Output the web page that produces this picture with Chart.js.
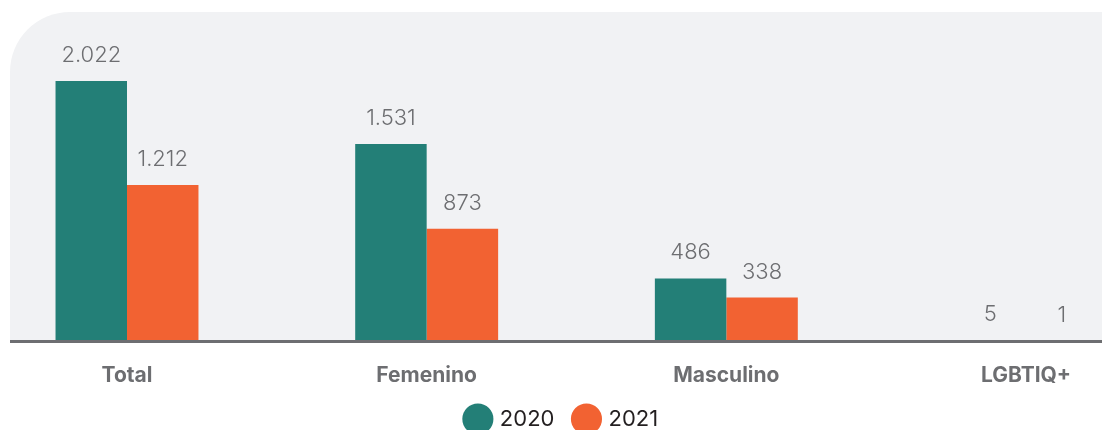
<!DOCTYPE html>
<html>
<head>
<meta charset="utf-8">
<script src="https://cdn.jsdelivr.net/npm/chart.js@4/dist/chart.umd.min.js"></script>
<style>
  html, body { margin: 0; padding: 0; background: #fff; overflow: hidden; }
  #wrap { width: 1102px; height: 430px; overflow: hidden; }
</style>
</head>
<body>
<div id="wrap"><canvas id="myChart" width="1102" height="440"></canvas></div>
<script>
// Data

var categories = ['Total', 'Femenino', 'Masculino', 'LGBTIQ+']
var values2020 = [2022, 1531, 486, 5]
var values2021 = [1212, 873, 338, 1]
var seriesNames = ['2020', '2021']

var colors = ['#237f77', '#f26232']
var fontFamily = 'Inter, "Open Sans", "DejaVu Sans", sans-serif'

function formatNumber(v) {
    return v.toString().replace(/\B(?=(\d{3})+(?!\d))/g, '.')
}

// empty axis used only as a spacer
function spacer(position, width) {
    return {
        position: position,
        display: true,
        min: 0,
        max: 2340,
        grid: { display: false },
        border: { display: false },
        ticks: { display: false },
        afterFit: scale => { scale.width = width }
    }
}

// Plugins

var panel = {
    id: 'panel',
    beforeDraw: chart => {
        var ctx = chart.ctx
        var bottom = chart.chartArea.bottom
        ctx.save()
        ctx.fillStyle = '#f1f2f4'
        ctx.beginPath()
        ctx.roundRect(10, 12, 1160, bottom - 12, [60, 60, 0, 0])
        ctx.fill()
        ctx.restore()
    },
    afterDatasetsDraw: chart => {
        var ctx = chart.ctx
        var bottom = chart.chartArea.bottom
        ctx.save()
        ctx.fillStyle = '#6d6e71'
        ctx.fillRect(10, bottom - 1, 1092, 3)

        ctx.font = '300 22px ' + fontFamily
        ctx.fillStyle = '#6d6e71'
        ctx.textAlign = 'center'
        ctx.textBaseline = 'alphabetic'
        chart.data.datasets.forEach((ds, i) => {
            chart.getDatasetMeta(i).data.forEach((bar, j) => {
                ctx.fillText(formatNumber(ds.data[j]), bar.x, bar.y - 19)
            })
        })
        ctx.restore()
    }
}

// Drawing

var ctx = document.getElementById('myChart').getContext('2d')

var myChart = new Chart(ctx, {
    type: 'bar',
    data: {
        labels: categories,
        datasets: [
            { label: seriesNames[0], data: values2020, backgroundColor: colors[0], clip: false },
            { label: seriesNames[1], data: values2021, backgroundColor: colors[1], clip: false },
        ]
    },
    options: {
        responsive: false,
        animation: false,
        categoryPercentage: 0.477,
        barPercentage: 1,
        layout: { padding: { left: 23, right: 0, top: 40, bottom: 0 } },
        plugins: {
            legend: {
                position: 'bottom',
                labels: {
                    usePointStyle: true,
                    pointStyle: 'circle',
                    boxWidth: 23,
                    boxHeight: 23,
                    padding: 21,
                    color: '#231f20',
                    font: { family: fontFamily, size: 22 }
                }
            },
            tooltip: { enabled: false }
        },
        scales: {
            x: {
                offset: false,
                grid: { display: false },
                border: { display: false },
                afterFit: scale => { scale.height = 46 },
                ticks: {
                    padding: 14,
                    color: '#6d6e71',
                    font: { family: fontFamily, size: 21, weight: 'bold' }
                }
            },
            y: spacer('left', 104),
            yRight: spacer('right', 76)
        }
    },
    plugins: [panel]
})
</script>
</body>
</html>
